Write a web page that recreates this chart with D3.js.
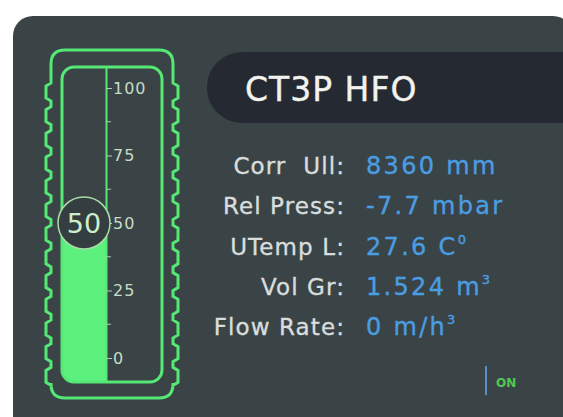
<!DOCTYPE html>
<meta charset='utf-8'>
<style>
  body { margin:0; background:#fff; }
  text { font-family:'DejaVu Sans',sans-serif; }
</style>
<body>
<script src='https://d3js.org/d3.v7.min.js'></script>
<script>
  var width = 563;
  var height = 417;

  // data -----------------------------------------------------------------
  var title = 'CT3P HFO';
  var level = 50;
  var majorTicks = [0, 25, 50, 75, 100];
  var minorTicks = [12.5, 37.5, 62.5, 87.5];
  var labels = ['Corr  Ull:', 'Rel Press:', 'UTemp L:', 'Vol Gr:', 'Flow Rate:'];
  var values = ['8360', '-7.7', '27.6', '1.524', '0'];
  var units = ['mm', 'mbar', 'C', 'm', 'm/h'];
  var unitSup = ['', '', '0', '3', '3'];
  var status = 'ON';

  var green = '#55e874';
  var panel = '#3a4447';

  var svg = d3.select('body').append('svg')
    .attr('width', width)
    .attr('height', height);

  // panel
  svg.append('rect')
    .attr('x', 13).attr('y', 16)
    .attr('width', 560).attr('height', 440)
    .attr('rx', 20)
    .attr('fill', panel);

  // title bar
  svg.append('rect')
    .attr('x', 207).attr('y', 52)
    .attr('width', 420).attr('height', 71)
    .attr('rx', 35)
    .attr('fill', '#252932');
  svg.append('text')
    .attr('x', 245).attr('y', 101)
    .attr('fill', '#f2f2ee')
    .attr('stroke', '#f2f2ee')
    .attr('stroke-width', 0.4)
    .attr('font-size', 33)
    .attr('letter-spacing', 1)
    .text(title);

  // gauge ----------------------------------------------------------------
  var y = d3.scaleLinear().domain([0, 100]).range([358, 88]);

  // outer notched frame
  function notchedSide(xOut, dir) {
    var pts = [];
    var xIn = xOut + dir * 5;
    pts.push([xIn, 66]);
    for (var p = 83; p < 370; p += 23.7) {
      pts.push([xIn, p]);
      pts.push([xOut, p + 3]);
      pts.push([xOut, p + 15]);
      pts.push([xIn, p + 18]);
    }
    pts.push([xIn, 383]);
    return pts;
  }
  var left = notchedSide(46, 1);
  var right = notchedSide(178, -1);
  var d = 'M' + (51 + 14) + ',50';
  d += 'L' + (173 - 14) + ',50';
  d += 'Q173,50 173,64';
  right.forEach(function(p) { d += 'L' + p[0] + ',' + p[1]; });
  d += 'L173,384Q173,398 159,398L65,398Q51,398 51,384';
  left.slice().reverse().forEach(function(p) { d += 'L' + p[0] + ',' + p[1]; });
  d += 'L51,64Q51,50 65,50Z';
  svg.append('path')
    .attr('d', d)
    .attr('fill', 'none')
    .attr('stroke', green)
    .attr('stroke-width', 3);

  // inner tube
  svg.append('clipPath').attr('id', 'tube')
    .append('rect')
    .attr('x', 62).attr('y', 67)
    .attr('width', 100).attr('height', 315)
    .attr('rx', 12);
  svg.append('rect')
    .attr('clip-path', 'url(#tube)')
    .attr('x', 62).attr('y', y(level))
    .attr('width', 45).attr('height', 382 - y(level))
    .attr('fill', '#5cf07c');
  svg.append('rect')
    .attr('x', 62).attr('y', 67)
    .attr('width', 100).attr('height', 315)
    .attr('rx', 12)
    .attr('fill', 'none')
    .attr('stroke', green)
    .attr('stroke-width', 3);
  svg.append('line')
    .attr('x1', 106.5).attr('x2', 106.5)
    .attr('y1', 67).attr('y2', 382)
    .attr('stroke', green)
    .attr('stroke-width', 2);

  // axis
  var axis = svg.append('g')
    .attr('transform', 'translate(106,0)')
    .call(d3.axisRight(y).tickValues(majorTicks).tickSize(6).tickPadding(1));
  axis.select('.domain').remove();
  axis.selectAll('line').attr('stroke', '#9fd4a3');
  axis.selectAll('text')
    .attr('fill', '#c7dcc4')
    .attr('font-size', 16)
    .attr('letter-spacing', 1)
    .style('font-family', "'DejaVu Sans', sans-serif");
  svg.append('g')
    .selectAll('line')
    .data(minorTicks)
    .join('line')
    .attr('x1', 106).attr('x2', 111)
    .attr('y1', function(v) { return y(v); })
    .attr('y2', function(v) { return y(v); })
    .attr('stroke', '#9fd4a3');

  // level marker
  svg.append('circle')
    .attr('cx', 84).attr('cy', y(level))
    .attr('r', 26)
    .attr('fill', '#343e41')
    .attr('stroke', '#a9dca8')
    .attr('stroke-width', 1.5);
  svg.append('text')
    .attr('x', 84).attr('y', y(level) + 10)
    .attr('text-anchor', 'middle')
    .attr('fill', '#cdeecb')
    .attr('font-size', 27)
    .text(level);

  // readings -------------------------------------------------------------
  var rowY = d3.scalePoint().domain(d3.range(labels.length)).range([174, 335]);
  var rows = svg.append('g')
    .selectAll('g')
    .data(labels)
    .join('g')
    .attr('transform', function(l, i) { return 'translate(0,' + rowY(i) + ')'; });
  rows.append('text')
    .attr('x', 345)
    .attr('text-anchor', 'end')
    .attr('fill', '#d9dddc')
    .attr('stroke', '#d9dddc')
    .attr('stroke-width', 0.35)
    .attr('font-size', 23)
    .attr('letter-spacing', 1.1)
    .style('white-space', 'pre')
    .text(function(l) { return l; });
  var vt = rows.append('text')
    .attr('x', 366)
    .attr('fill', '#4b9de2')
    .attr('stroke', '#4b9de2')
    .attr('stroke-width', 0.35)
    .attr('font-size', 24)
    .attr('letter-spacing', 2.3);
  vt.append('tspan').text(function(l, i) { return values[i] + ' ' + units[i]; });
  vt.append('tspan')
    .attr('dy', -11)
    .attr('font-size', 13)
    .text(function(l, i) { return unitSup[i]; });

  // status
  svg.append('line')
    .attr('x1', 486).attr('x2', 486)
    .attr('y1', 366).attr('y2', 395)
    .attr('stroke', '#5b8fc4')
    .attr('stroke-width', 2);
  svg.append('text')
    .attr('x', 496).attr('y', 387)
    .attr('fill', '#4fc94f')
    .attr('font-size', 12)
    .attr('font-weight', 'bold')
    .text(status);
</script>
</body>
